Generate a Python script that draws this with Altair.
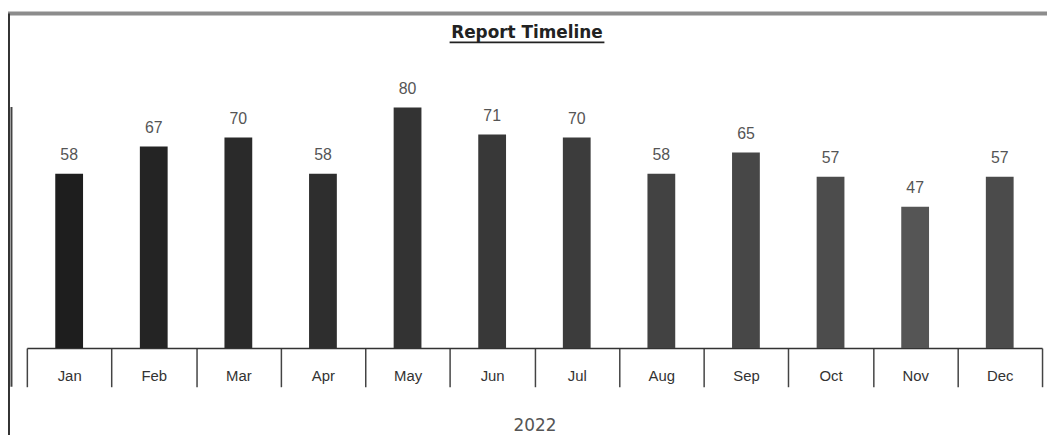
import altair as alt
import pandas as pd

months = ["Jan", "Feb", "Mar", "Apr", "May", "Jun", "Jul", "Aug", "Sep", "Oct", "Nov", "Dec"]
values = [58, 67, 70, 58, 80, 71, 70, 58, 65, 57, 47, 57]
bar_colors = ["#1e1e1e", "#242424", "#2a2a2a", "#2e2e2e", "#333333", "#383838",
              "#3c3c3c", "#424242", "#474747", "#4c4c4c", "#555555", "#4b4b4b"]
title_text = "Report Timeline"
axis_title = "2022"

df = pd.DataFrame({"month": months, "value": values})

W, H = 1023, 303

x_enc = alt.X(
    "month:N",
    sort=months,
    scale=alt.Scale(paddingInner=0, paddingOuter=0),
    axis=alt.Axis(
        title=axis_title,
        titleFont="DejaVu Sans",
        titleFontSize=17,
        titleFontWeight="normal",
        titleColor="#555555",
        titlePadding=30,
        labelAngle=0,
        labelFont="Liberation Sans",
        labelFontSize=15,
        labelColor="#333333",
        labelPadding=-18,
        labelBaseline="top",
        tickBand="extent",
        tickSize=39,
        tickColor="#444444",
        tickWidth=1.5,
        domainColor="#333333",
        domainWidth=1.5,
        grid=False,
    ),
)
y_enc = alt.Y("value:Q", scale=alt.Scale(domain=[0, 100]), axis=None)

bars = alt.Chart(df).mark_bar(size=28).encode(
    x=x_enc,
    y=y_enc,
    color=alt.Color("month:N", sort=months,
                    scale=alt.Scale(domain=months, range=bar_colors), legend=None),
)

labels = alt.Chart(df).mark_text(
    dy=-19, baseline="middle", align="center",
    font="Liberation Sans", fontSize=16, color="#555555",
).encode(
    x=alt.X("month:N", sort=months),
    y="value:Q",
    text="value:Q",
)

title_df = pd.DataFrame({"t": [title_text]})
title = alt.Chart(title_df).mark_text(
    font="DejaVu Sans", fontSize=17, fontWeight="bold", color="#222222",
    align="center", baseline="middle",
).encode(x=alt.value(504), y=alt.value(-14), text="t:N")

underline = alt.Chart(title_df).mark_rule(color="#222222", strokeWidth=2).encode(
    x=alt.value(426), x2=alt.value(582), y=alt.value(-5)
)
top_frame = alt.Chart(title_df).mark_rule(color="#8c8c8c", strokeWidth=4).encode(
    x=alt.value(-19), x2=alt.value(1028), y=alt.value(-34)
)
left_frame = alt.Chart(title_df).mark_rule(color="#333333", strokeWidth=2).encode(
    x=alt.value(-18), y=alt.value(-34), y2=alt.value(394)
)
left_seg = alt.Chart(title_df).mark_rule(color="#444444", strokeWidth=2).encode(
    x=alt.value(-15.5), y=alt.value(60), y2=alt.value(342)
)

chart = alt.layer(bars, labels, title, underline, top_frame, left_frame, left_seg).properties(
    width=W, height=H,
    background="white",
    autosize=alt.AutoSizeParams(type="none"),
    padding={"left": 19, "top": 38, "right": 5, "bottom": 86},
).configure_view(strokeWidth=0, stroke="transparent")

chart.save("out.html", embed_options={"renderer": "svg", "actions": False})
